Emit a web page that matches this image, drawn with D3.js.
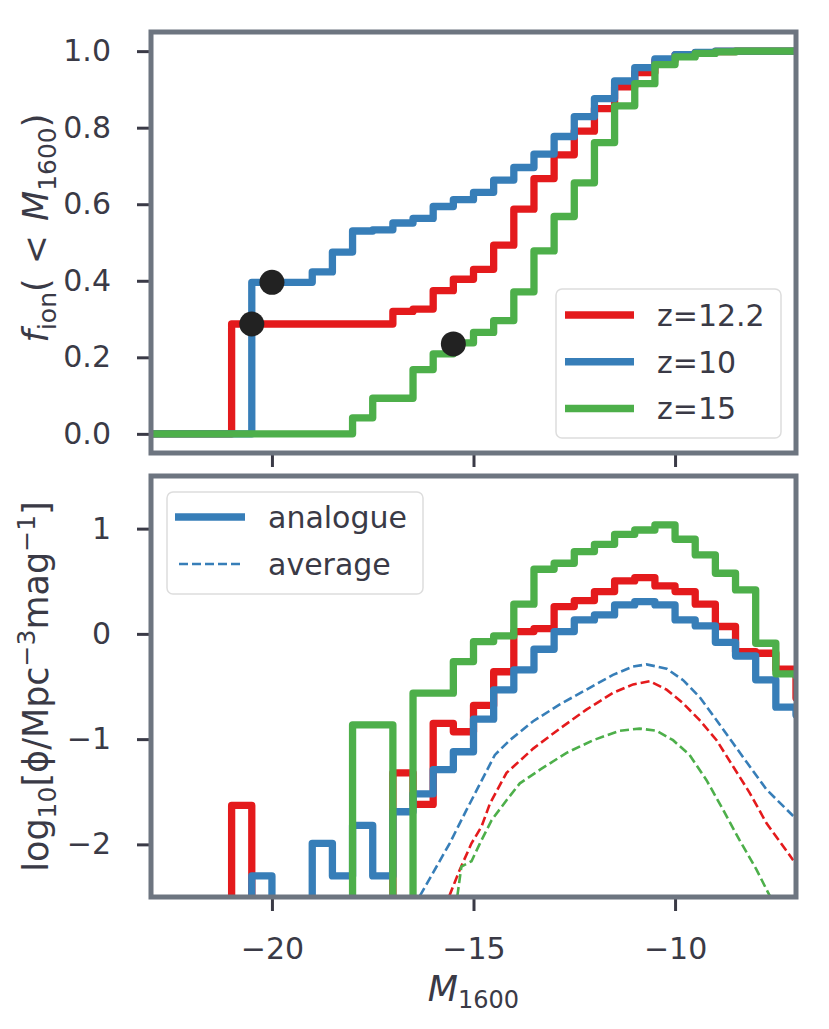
<!DOCTYPE html>
<html>
<head>
<meta charset="utf-8">
<script src="https://cdn.jsdelivr.net/npm/d3@7"></script>
<style>
  body { margin: 0; background: #fff; }
  text { font-family: "DejaVu Sans", sans-serif; fill: #3a3a46; }
</style>
</head>
<body>
<svg width="829" height="1029"></svg>
<script>
// bin left edges (0.5 mag bins), last one runs past the frame
var binEdges = [-23, -22.5, -22, -21.5, -21, -20.5, -20, -19.5, -19, -18.5, -18, -17.5,
  -17, -16.5, -16, -15.5, -15, -14.5, -14, -13.5, -13, -12.5, -12, -11.5,
  -11, -10.5, -10, -9.5, -9, -8.5, -8, -7.5, -7]
var binWidth = 0.5

// top panel: cumulative f_ion(<M1600)
var fionZ122 = [0, 0, 0, 0, 0.287, 0.287, 0.287, 0.287, 0.287, 0.287, 0.287, 0.287,
  0.320, 0.326, 0.374, 0.404, 0.430, 0.493, 0.587, 0.667, 0.729, 0.791, 0.850, 0.907,
  0.944, 0.975, 0.990, 0.996, 0.999, 1, 1, 1, 1]
var fionZ10 = [0, 0, 0, 0, 0, 0.396, 0.396, 0.396, 0.423, 0.475, 0.530, 0.533,
  0.551, 0.563, 0.594, 0.612, 0.631, 0.663, 0.696, 0.731, 0.777, 0.829, 0.876, 0.922,
  0.957, 0.980, 0.991, 0.997, 1, 1, 1, 1, 1]
var fionZ15 = [0, 0, 0, 0, 0, 0, 0, 0, 0, 0, 0.042, 0.093,
  0.093, 0.168, 0.209, 0.238, 0.265, 0.296, 0.371, 0.478, 0.568, 0.656, 0.761, 0.857,
  0.915, 0.965, 0.985, 0.994, 0.998, 1, 1, 1, 1]
var dotM = [-20.5, -20, -15.5]
var dotF = [0.287, 0.396, 0.235]

// bottom panel: log10 phi of analogue (null = empty bin)
var phiZ122 = [null, null, null, null, -1.63, null, null, null, null, null, null, null,
  -1.32, -1.62, -0.85, -0.93, -0.68, -0.36, 0.022, 0.05, 0.259, 0.316, 0.402, 0.503,
  0.535, 0.456, 0.402, 0.282, 0.070, -0.17, -0.184, -0.336, -0.61]
var phiZ10 = [null, null, null, null, null, -2.30, null, null, -1.99, -2.30, -1.82, -2.30,
  -1.69, -1.52, -1.29, -1.12, -0.81, -0.532, -0.342, -0.146, 0.022, 0.133, 0.180, 0.275,
  0.307, 0.275, 0.133, 0.076, -0.08, -0.21, -0.437, -0.696, -0.77]
var phiZ15 = [null, null, null, null, null, null, null, null, null, null, -0.864, -0.864,
  null, -0.563, -0.563, -0.263, -0.073, -0.019, 0.282, 0.614, 0.671, 0.782, 0.851, 0.946,
  0.987, 1.035, 0.899, 0.750, 0.576, 0.418, -0.089, -0.38, -0.40]

// bottom panel: average curves
var avgZ10M = [-16.33, -15.59, -15.17, -14.47, -14.10, -13.52, -12.86, -12.20, -11.54,
  -11.04, -10.71, -10.21, -9.80, -9.39, -8.97, -8.56, -7.73, -7.07]
var avgZ10 = [-2.49, -1.99, -1.67, -1.15, -1.01, -0.83, -0.67, -0.53, -0.39,
  -0.31, -0.29, -0.33, -0.44, -0.60, -0.82, -1.04, -1.48, -1.73]
var avgZ122M = [-15.60, -15.34, -15.05, -14.80, -14.59, -14.18, -13.52, -12.86, -12.20,
  -11.54, -11.04, -10.63, -10.21, -9.80, -9.39, -8.97, -8.56, -8.15, -7.73, -7.07]
var avgZ122 = [-2.49, -2.24, -1.99, -1.83, -1.61, -1.32, -1.09, -0.90, -0.72,
  -0.56, -0.48, -0.45, -0.53, -0.66, -0.82, -1.01, -1.26, -1.51, -1.80, -2.15]
var avgZ15M = [-15.40, -15.30, -15.05, -14.84, -14.55, -14.18, -13.85, -13.35, -12.69,
  -12.03, -11.37, -10.88, -10.46, -10.05, -9.64, -9.22, -8.81, -8.40, -7.98, -7.65]
var avgZ15 = [-2.49, -2.21, -2.16, -1.99, -1.77, -1.58, -1.42, -1.29, -1.13,
  -1.01, -0.92, -0.90, -0.92, -1.01, -1.15, -1.39, -1.67, -1.96, -2.24, -2.49]

var labels = ['z=12.2', 'z=10', 'z=15']
var colors = ['#e41a1c', '#377eb8', '#4daf4a']

var xTicks = [-20, -15, -10]
var yTopTicks = [0, 0.2, 0.4, 0.6, 0.8, 1.0]
var yBotTicks = [-2, -1, 0, 1]

var svg = d3.select('svg')
var ink = '#3a3a46'
var frameColor = '#6d7580'

// panels
var L = 151, R = 796
var top1 = 32, bot1 = 453, top2 = 476, bot2 = 897

var x = d3.scaleLinear().domain([-23, -7]).range([L, R])
var yTop = d3.scaleLinear().domain([-0.05, 1.05]).range([bot1, top1])
var yBot = d3.scaleLinear().domain([-2.5, 1.5]).range([bot2, top2])

var defs = svg.append('defs')
defs.append('clipPath').attr('id', 'clipTop').append('rect')
  .attr('x', L).attr('y', top1).attr('width', R - L).attr('height', bot1 - top1)
defs.append('clipPath').attr('id', 'clipBot').append('rect')
  .attr('x', L).attr('y', top2).attr('width', R - L).attr('height', bot2 - top2)

// axes first, frame goes over the tick roots
function styleAxis (g) {
  g.select('.domain').remove()
  g.selectAll('line').attr('stroke', ink).attr('stroke-width', 3)
  g.selectAll('text').attr('font-size', 30).attr('fill', ink)
    .attr('font-family', 'DejaVu Sans')
}

svg.append('g').attr('transform', 'translate(' + L + ',0)')
  .call(d3.axisLeft(yTop).tickValues(yTopTicks).tickFormat(d3.format('.1f'))
    .tickSize(14).tickPadding(26))
  .call(styleAxis)
svg.append('g').attr('transform', 'translate(0,' + bot1 + ')')
  .call(d3.axisBottom(x).tickValues(xTicks).tickFormat('').tickSize(14))
  .call(styleAxis)
svg.append('g').attr('transform', 'translate(' + L + ',0)')
  .call(d3.axisLeft(yBot).tickValues(yBotTicks).tickFormat(d3.format('d'))
    .tickSize(14).tickPadding(26))
  .call(styleAxis)
svg.append('g').attr('transform', 'translate(0,' + bot2 + ')')
  .call(d3.axisBottom(x).tickValues(xTicks).tickSize(14).tickPadding(27))
  .call(styleAxis)

// step line helpers
function stepPoints (vals, floor) {
  var pts = binEdges.map((e, i) => [e, vals[i] == null ? floor : vals[i]])
  var last = pts[pts.length - 1]
  pts.push([last[0] + binWidth, last[1]])
  pts.push([last[0] + binWidth, floor])
  return pts
}

// top panel
var lineTop = d3.line().x((d) => x(d[0])).y((d) => yTop(d[1])).curve(d3.curveStepAfter)
var gTop = svg.append('g').attr('clip-path', 'url(#clipTop)')
;[fionZ122, fionZ10, fionZ15].forEach((vals, i) => {
  var pts = binEdges.map((e, j) => [e, vals[j]])
  pts.push([binEdges[binEdges.length - 1] + binWidth, vals[vals.length - 1]])
  gTop.append('path')
    .attr('d', lineTop(pts))
    .attr('fill', 'none')
    .attr('stroke', colors[i])
    .attr('stroke-width', 7.3)
    .attr('stroke-linejoin', 'round')
})
gTop.selectAll('circle')
  .data(dotM)
  .enter()
  .append('circle')
  .attr('cx', (d) => x(d))
  .attr('cy', (d, i) => yTop(dotF[i]))
  .attr('r', 12.5)
  .attr('fill', '#222')

// bottom panel
var lineBot = d3.line().x((d) => x(d[0])).y((d) => yBot(d[1])).curve(d3.curveStepAfter)
var lineAvg = d3.line().x((d) => x(d[0])).y((d) => yBot(d[1]))
var gBot = svg.append('g').attr('clip-path', 'url(#clipBot)')
var avgM = [avgZ122M, avgZ10M, avgZ15M]
var avgV = [avgZ122, avgZ10, avgZ15]
;[phiZ122, phiZ10, phiZ15].forEach((vals, i) => {
  gBot.append('path')
    .attr('d', lineBot(stepPoints(vals, -6)))
    .attr('fill', 'none')
    .attr('stroke', colors[i])
    .attr('stroke-width', 7.3)
    .attr('stroke-linejoin', 'round')
})
avgV.forEach((vals, i) => {
  gBot.append('path')
    .attr('d', lineAvg(vals.map((v, j) => [avgM[i][j], v])))
    .attr('fill', 'none')
    .attr('stroke', colors[i])
    .attr('stroke-width', 2.6)
    .attr('stroke-dasharray', '9,4')
})

// frames
;[[top1, bot1], [top2, bot2]].forEach((p) => {
  svg.append('rect')
    .attr('x', L).attr('y', p[0])
    .attr('width', R - L).attr('height', p[1] - p[0])
    .attr('fill', 'none')
    .attr('stroke', frameColor)
    .attr('stroke-width', 5)
})

// legend, top panel
var leg1 = svg.append('g')
leg1.append('rect')
  .attr('x', 556).attr('y', 289).attr('width', 225).attr('height', 149)
  .attr('rx', 6).attr('fill', 'white').attr('fill-opacity', 0.8)
  .attr('stroke', '#dddddd').attr('stroke-width', 1.5)
labels.forEach((lab, i) => {
  var ly = 315 + i * 46.7
  leg1.append('line')
    .attr('x1', 565).attr('x2', 634).attr('y1', ly).attr('y2', ly)
    .attr('stroke', colors[i]).attr('stroke-width', 7.5)
  leg1.append('text')
    .attr('x', 657).attr('y', ly + 11)
    .attr('font-size', 30)
    .text(lab)
})

// legend, bottom panel
var leg2 = svg.append('g')
leg2.append('rect')
  .attr('x', 167).attr('y', 492).attr('width', 256).attr('height', 102)
  .attr('rx', 6).attr('fill', 'white').attr('fill-opacity', 0.8)
  .attr('stroke', '#dddddd').attr('stroke-width', 1.5)
leg2.append('line')
  .attr('x1', 175).attr('x2', 245).attr('y1', 517).attr('y2', 517)
  .attr('stroke', colors[1]).attr('stroke-width', 7.5)
leg2.append('line')
  .attr('x1', 179).attr('x2', 241).attr('y1', 564).attr('y2', 564)
  .attr('stroke', colors[1]).attr('stroke-width', 2.5).attr('stroke-dasharray', '9,4')
leg2.append('text').attr('x', 268).attr('y', 528).attr('font-size', 30).text('analogue')
leg2.append('text').attr('x', 268).attr('y', 575).attr('font-size', 30).text('average')

// axis labels
var yl1 = svg.append('text')
  .attr('transform', 'translate(48,' + 228 + ') rotate(-90)')
  .attr('text-anchor', 'middle')
  .attr('font-size', 35)
yl1.append('tspan').attr('font-style', 'italic').text('f')
yl1.append('tspan').attr('font-size', 25).attr('dy', 8).text('ion')
yl1.append('tspan').attr('dy', -8).text('(')
yl1.append('tspan').attr('dx', 14).text('<')
yl1.append('tspan').attr('dx', 14).attr('font-style', 'italic').text('M')
yl1.append('tspan').attr('font-size', 25).attr('dy', 8).text('1600')
yl1.append('tspan').attr('dy', -8).text(')')

var yl2 = svg.append('text')
  .attr('transform', 'translate(48,' + (top2 + bot2) / 2 + ') rotate(-90)')
  .attr('text-anchor', 'middle')
  .attr('font-size', 35)
yl2.append('tspan').text('log')
yl2.append('tspan').attr('font-size', 25).attr('dy', 8).text('10')
yl2.append('tspan').attr('dy', -8).text('[ϕ/Mpc')
yl2.append('tspan').attr('font-size', 25).attr('dy', -13).text('−3')
yl2.append('tspan').attr('dy', 13).text('mag')
yl2.append('tspan').attr('font-size', 25).attr('dy', -13).text('−1')
yl2.append('tspan').attr('dy', 13).text(']')

var xl = svg.append('text')
  .attr('x', (L + R) / 2).attr('y', 1001)
  .attr('text-anchor', 'middle')
  .attr('font-size', 35)
xl.append('tspan').attr('font-style', 'italic').text('M')
xl.append('tspan').attr('font-size', 24).attr('dy', 7).text('1600')
</script>
</body>
</html>
